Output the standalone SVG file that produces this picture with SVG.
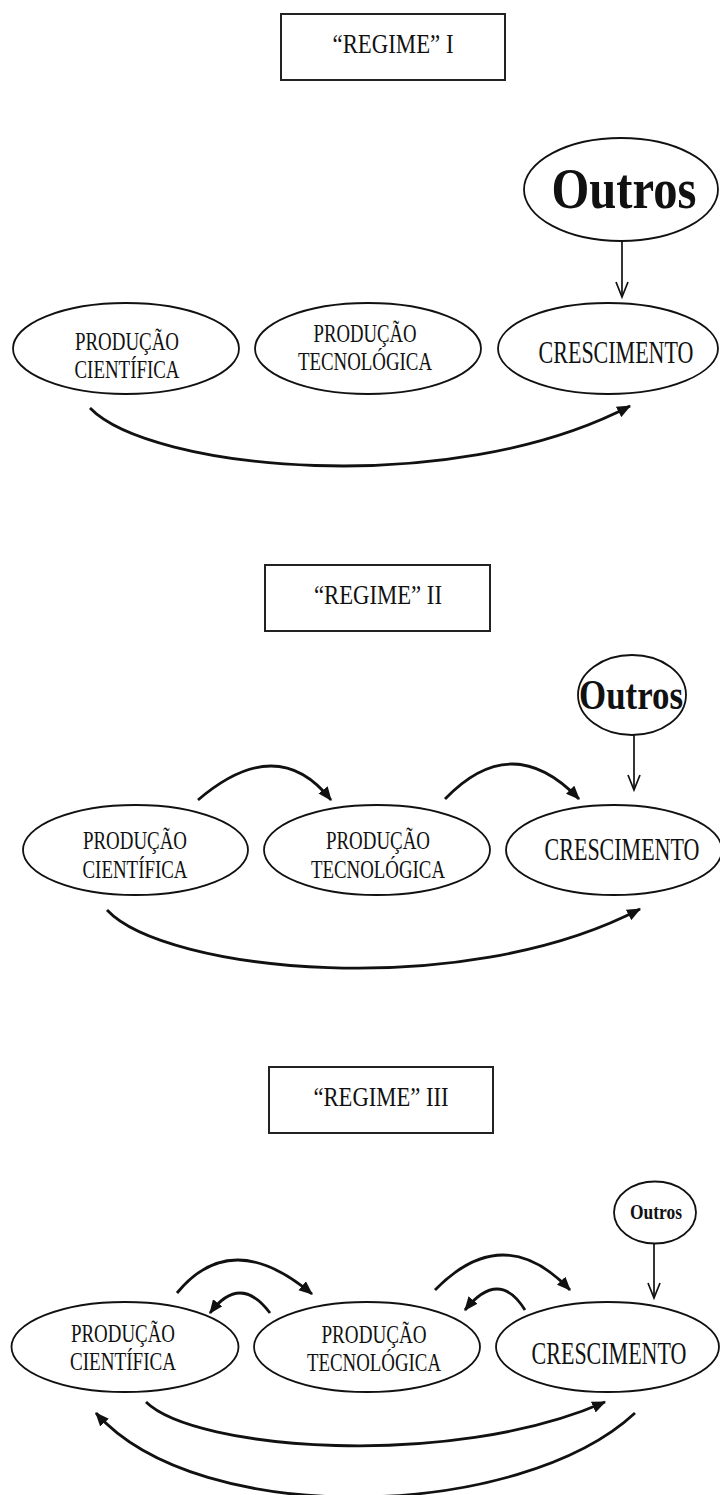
<svg xmlns="http://www.w3.org/2000/svg" width="720" height="1495" viewBox="0 0 720 1495">
<style>
.box{fill:#fff;stroke:#222;stroke-width:2}
.nd{fill:#fff;stroke:#111;stroke-width:1.8}
.t{font-family:"Liberation Serif","Times New Roman",serif;fill:#111;text-anchor:middle}
.b{font-weight:bold}
.cr{font-size:22px}
.c{fill:none;stroke:#111;stroke-width:2.8;marker-end:url(#ah)}
.v{fill:none;stroke:#111;stroke-width:1.7}
</style>
<defs>
<marker id="ah" markerUnits="userSpaceOnUse" viewBox="0 0 12 10" refX="11" refY="5" markerWidth="14" markerHeight="12" orient="auto">
<path d="M0,0 L12,5 L0,10 z" fill="#111"/>
</marker>
</defs>
<rect width="720" height="1495" fill="#fff"/>

<!-- Regime I -->
<g id="regime1">
<rect class="box" x="281" y="14" width="224" height="66"/>
<text class="t" x="393" y="53" font-size="27" textLength="121" lengthAdjust="spacingAndGlyphs">“REGIME” I</text>
</g>
<g id="outros1">
<ellipse class="nd" cx="621" cy="189.5" rx="97" ry="51.5"/>
<text class="t b" x="624" y="208" font-size="57" textLength="145" lengthAdjust="spacingAndGlyphs">Outros</text>
</g>
<g id="pc1">
<ellipse class="nd" cx="126" cy="348.5" rx="113" ry="45.5"/>
<text class="t" x="127" y="350" font-size="26" textLength="104" lengthAdjust="spacingAndGlyphs">PRODUÇÃO</text>
<text class="t" x="127" y="378" font-size="26" textLength="105" lengthAdjust="spacingAndGlyphs">CIENTÍFICA</text>
</g>
<g id="pt1">
<ellipse class="nd" cx="368" cy="348.5" rx="113" ry="45.5"/>
<text class="t" x="365" y="342" font-size="25.5" textLength="103" lengthAdjust="spacingAndGlyphs">PRODUÇÃO</text>
<text class="t" x="365" y="370" font-size="25.5" textLength="134" lengthAdjust="spacingAndGlyphs">TECNOLÓGICA</text>
</g>
<g id="cr1">
<ellipse class="nd" cx="608" cy="348.5" rx="110" ry="45.5"/>
<text class="t cr" transform="translate(616,363) scale(1,1.4)">CRESCIMENTO</text>
</g>

<!-- Regime II -->
<g id="regime2">
<rect class="box" x="265" y="565" width="225" height="66"/>
<text class="t" x="378" y="604" font-size="27" textLength="128" lengthAdjust="spacingAndGlyphs">“REGIME” II</text>
</g>
<g id="outros2">
<ellipse class="nd" cx="632" cy="695" rx="54" ry="40"/>
<text class="t b" x="631" y="709" font-size="43" textLength="104" lengthAdjust="spacingAndGlyphs">Outros</text>
</g>
<g id="pc2">
<ellipse class="nd" cx="135.5" cy="850" rx="112.5" ry="45"/>
<text class="t" x="135" y="849" font-size="26" textLength="104" lengthAdjust="spacingAndGlyphs">PRODUÇÃO</text>
<text class="t" x="135" y="878" font-size="26" textLength="105" lengthAdjust="spacingAndGlyphs">CIENTÍFICA</text>
</g>
<g id="pt2">
<ellipse class="nd" cx="377" cy="850" rx="113" ry="45"/>
<text class="t" x="378" y="849" font-size="26" textLength="104" lengthAdjust="spacingAndGlyphs">PRODUÇÃO</text>
<text class="t" x="378" y="878" font-size="26" textLength="134" lengthAdjust="spacingAndGlyphs">TECNOLÓGICA</text>
</g>
<g id="cr2">
<ellipse class="nd" cx="614" cy="850" rx="108" ry="45"/>
<text class="t cr" transform="translate(622,860) scale(1,1.4)">CRESCIMENTO</text>
</g>

<!-- Regime III -->
<g id="regime3">
<rect class="box" x="269" y="1067" width="224" height="66"/>
<text class="t" x="381" y="1106" font-size="27" textLength="135" lengthAdjust="spacingAndGlyphs">“REGIME” III</text>
</g>
<g id="outros3">
<ellipse class="nd" cx="655" cy="1212.5" rx="41" ry="31"/>
<text class="t b" x="656" y="1219" font-size="21" textLength="52" lengthAdjust="spacingAndGlyphs">Outros</text>
</g>
<g id="pc3">
<ellipse class="nd" cx="125" cy="1347" rx="113.5" ry="45"/>
<text class="t" x="123" y="1342" font-size="26" textLength="104" lengthAdjust="spacingAndGlyphs">PRODUÇÃO</text>
<text class="t" x="123" y="1370" font-size="26" textLength="106" lengthAdjust="spacingAndGlyphs">CIENTÍFICA</text>
</g>
<g id="pt3">
<ellipse class="nd" cx="367" cy="1347" rx="113" ry="45"/>
<text class="t" x="374" y="1343" font-size="26" textLength="105" lengthAdjust="spacingAndGlyphs">PRODUÇÃO</text>
<text class="t" x="374" y="1371" font-size="26" textLength="134" lengthAdjust="spacingAndGlyphs">TECNOLÓGICA</text>
</g>
<g id="cr3">
<ellipse class="nd" cx="607.5" cy="1347" rx="111.5" ry="45"/>
<text class="t cr" transform="translate(609,1364) scale(1,1.4)">CRESCIMENTO</text>
</g>

<g id="connectors">
<!-- Regime I -->
<line class="v" x1="622" y1="241" x2="622" y2="297"/>
<polyline class="v" points="616,282 622,297 628,282"/>
<path class="c" d="M90,408 C150,470 450,500 630,406"/>
<!-- Regime II -->
<line class="v" x1="634" y1="735" x2="634" y2="790"/>
<polyline class="v" points="628,775 634,790 640,775"/>
<path class="c" d="M198,800 Q277.5,732 331,800"/>
<path class="c" d="M445,799 Q512,729 579,799"/>
<path class="c" d="M107,910 C165,972 462,1002 640,909"/>
<!-- Regime III -->
<line class="v" x1="654" y1="1243" x2="654" y2="1298"/>
<polyline class="v" points="648,1283 654,1298 660,1283"/>
<path class="c" d="M177,1293 Q231.5,1226.5 312,1294"/>
<path class="c" d="M270,1313 Q240,1273 210,1313"/>
<path class="c" d="M435,1290 Q503.5,1220 570,1290"/>
<path class="c" d="M525,1310 Q499,1268 465,1310"/>
<path class="c" d="M146,1402 C195,1450 450,1470 605,1402"/>
<path class="c" d="M635,1413 C520,1520 200,1530 96,1413"/>
</g>
</svg>
